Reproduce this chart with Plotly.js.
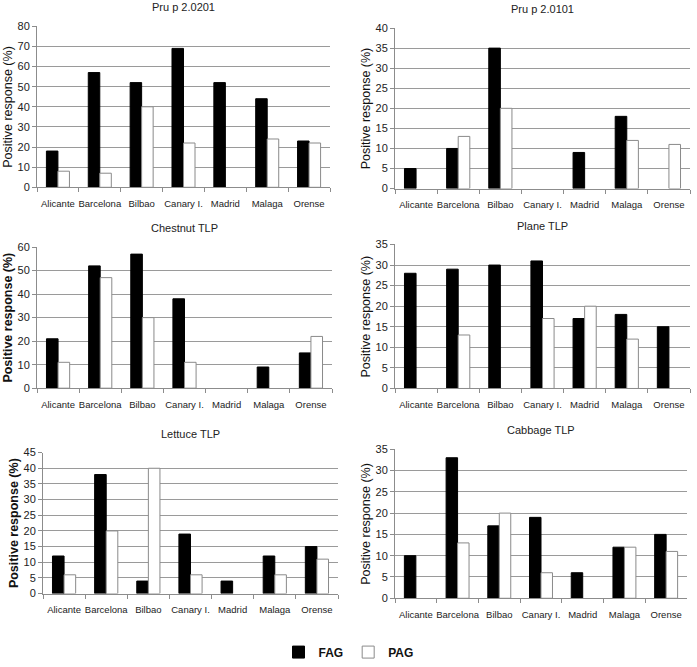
<!DOCTYPE html>
<html>
<head>
<meta charset="utf-8">
<script src="https://cdn.plot.ly/plotly-3.0.1.min.js"></script>
<style>
  html, body { margin: 0; padding: 0; background: #fff; }
  #chart { width: 697px; height: 667px; }
</style>
</head>
<body>
<div id="chart"></div>
<script>
// categories shared by every panel
const cities = ['Alicante', 'Barcelona', 'Bilbao', 'Canary I.', 'Madrid', 'Malaga', 'Orense'];

// panel titles
const panelTitles = ['Pru p 2.0201', 'Pru p 2.0101', 'Chestnut TLP', 'Plane TLP', 'Lettuce TLP', 'Cabbage TLP'];

// FAG values (% positive) per panel
const fagPru0201 = [18, 57, 52, 69, 52, 44, 23];
const fagPru0101 = [5, 10, 35, 0, 9, 18, 0];
const fagChestnut = [21, 52, 57, 38, 0, 9, 15];
const fagPlane = [28, 29, 30, 31, 17, 18, 15];
const fagLettuce = [12, 38, 4, 19, 4, 12, 15];
const fagCabbage = [10, 33, 17, 19, 6, 12, 15];

// PAG values (% positive) per panel
const pagPru0201 = [8, 7, 40, 22, 0, 24, 22];
const pagPru0101 = [0, 13, 20, 0, 0, 12, 11];
const pagChestnut = [11, 47, 30, 11, 0, 0, 22];
const pagPlane = [0, 13, 0, 17, 20, 12, 0];
const pagLettuce = [6, 20, 40, 6, 0, 6, 11];
const pagCabbage = [0, 13, 20, 6, 0, 12, 11];

// y axis maxima and steps
const yMax = [80, 40, 60, 35, 45, 35];
const yStep = [10, 5, 10, 5, 5, 5];

const fag = [fagPru0201, fagPru0101, fagChestnut, fagPlane, fagLettuce, fagCabbage];
const pag = [pagPru0201, pagPru0101, pagChestnut, pagPlane, pagLettuce, pagCabbage];

// panel placement (pixels)
const W = 697, H = 667;
const boxes = [
  { x0: 37, x1: 330, top: 26.5, bot: 189 },
  { x0: 395, x1: 690, top: 28.3, bot: 190.3 },
  { x0: 37, x1: 332, top: 249.3, bot: 391.7 },
  { x0: 395, x1: 690, top: 246.7, bot: 392 },
  { x0: 43, x1: 338, top: 456.7, bot: 599 },
  { x0: 395, x1: 687, top: 453.3, bot: 603.7 }
];
const boldY = [false, false, true, false, true, false];

// no outline on empty bars so nothing is drawn at zero
const outline = vals => vals.map(v => (v > 0 ? 1 : 0));

const traces = [];
const layout = {
  width: W,
  height: H,
  margin: { l: 0, r: 0, t: 0, b: 0 },
  paper_bgcolor: '#fff',
  plot_bgcolor: '#fff',
  font: { family: 'Liberation Sans, Arial, sans-serif', color: '#222' },
  barmode: 'group',
  bargap: 0.45,
  bargroupgap: 0,
  showlegend: true,
  legend: {
    orientation: 'h',
    x: 0.5, xanchor: 'center',
    y: 1 - 658 / H, yanchor: 'middle',
    font: { size: 12, weight: 'bold', color: '#111' },
    itemwidth: 30
  },
  annotations: []
};

for (let i = 0; i < 6; i++) {
  const n = i === 0 ? '' : String(i + 1);
  const b = boxes[i];
  traces.push({
    type: 'bar', name: 'FAG', x: cities, y: fag[i],
    xaxis: 'x' + n, yaxis: 'y' + n,
    marker: { color: '#000', line: { color: '#000', width: outline(fag[i]) } },
    showlegend: i === 0, legendgroup: 'fag', hoverinfo: 'skip'
  });
  traces.push({
    type: 'bar', name: 'PAG', x: cities, y: pag[i],
    xaxis: 'x' + n, yaxis: 'y' + n,
    marker: { color: '#fff', line: { color: '#8a8a8a', width: outline(pag[i]) } },
    showlegend: i === 0, legendgroup: 'pag', hoverinfo: 'skip'
  });

  layout['xaxis' + n] = {
    domain: [b.x0 / W, b.x1 / W],
    anchor: 'y' + n,
    type: 'category',
    showline: true, linecolor: '#8c8c8c', linewidth: 1,
    ticks: 'outside', tickson: 'boundaries', ticklen: 4, tickcolor: '#8c8c8c',
    tickangle: 0, ticklabelstandoff: 7,
    tickfont: { size: 9.5, color: '#222' },
    showgrid: false, fixedrange: true
  };
  layout['yaxis' + n] = {
    domain: [1 - b.bot / H, 1 - b.top / H],
    anchor: 'x' + n,
    range: [0, yMax[i]],
    dtick: yStep[i],
    showline: true, linecolor: '#8c8c8c', linewidth: 1,
    ticks: 'outside', ticklen: 4, tickcolor: '#8c8c8c',
    tickfont: { size: 11, color: '#222' },
    showgrid: true, gridcolor: '#9a9a9a', gridwidth: 1,
    zeroline: false, fixedrange: true
  };

  // panel title
  layout.annotations.push({
    text: panelTitles[i],
    xref: 'paper', yref: 'paper',
    x: (b.x0 + b.x1) / 2 / W,
    y: 1 - (b.top - 19) / H,
    xanchor: 'center', yanchor: 'middle',
    showarrow: false,
    font: { size: 11, color: '#222' }
  });
  // y axis title
  layout.annotations.push({
    text: 'Positive response (%)',
    xref: 'paper', yref: 'paper',
    x: (b.x0 - 29) / W,
    y: 1 - (b.top + b.bot) / 2 / H,
    xanchor: 'center', yanchor: 'middle',
    textangle: -90,
    showarrow: false,
    font: { size: 12.5, color: '#111', weight: boldY[i] ? 'bold' : 'normal' }
  });
}

Plotly.newPlot('chart', traces, layout, { displayModeBar: false, staticPlot: true });
</script>
</body>
</html>
